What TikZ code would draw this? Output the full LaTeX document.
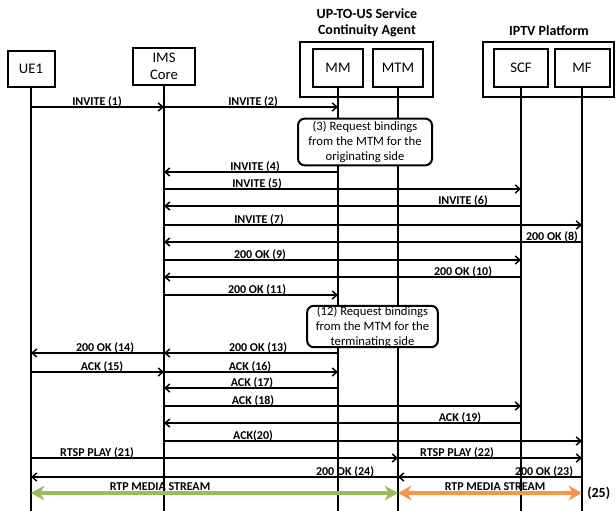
\documentclass[tikz,border=0pt]{standalone}
\usepackage{fontspec}
\setmainfont{Carlito}
\usetikzlibrary{arrows.meta}
\definecolor{sgreen}{HTML}{9BBB59}
\definecolor{sorange}{HTML}{F79646}
\newcommand\mymsg[5]{%
  \coordinate (r#3) at (0,#3);
  \draw[msg] (#1 |- r#3) -- (#2 |- r#3);
  \node[lbl] at (#4,#3-2) {#5};}
\begin{document}
\begin{tikzpicture}[x=0.75pt,y=-0.75pt,
 box/.style={draw, line width=1.5pt, fill=white, align=center, font=\fontsize{11}{12.5}\selectfont, inner sep=0pt},
 outer/.style={draw, line width=2.2pt, inner sep=0pt},
 title/.style={align=center, font=\bfseries\fontsize{10.5}{12}\selectfont, inner sep=0pt},
 life/.style={line width=1.5pt},
 msg/.style={line width=1.4pt, -{Straight Barb[length=3.5pt,width=6pt,line width=1.1pt]}},
 lbl/.style={font=\bfseries\fontsize{9}{10}\selectfont, inner sep=0pt, anchor=base},
 note/.style={draw, line width=1.5pt, rounded corners=5pt, fill=white, align=center, font=\fontsize{9.5}{11.25}\selectfont, inner sep=0pt},
 stream/.style={line width=2.8pt, {Stealth[length=10pt,width=11pt,inset=3pt]}-{Stealth[length=10pt,width=11pt,inset=3pt]}}
]
\useasboundingbox (0,0) rectangle (616,510);
% titles and group boxes
\node[title] (tu) at (367,23) {UP-TO-US Service\\Continuity Agent};
\node[title] (ti) at (549,31) {IPTV Platform};
\node[outer, minimum width=99.75pt, minimum height=41.25pt] (uta) at (366.5,69.5) {};
\node[outer, minimum width=98.25pt, minimum height=41.25pt] (iptv) at (548.5,69.5) {};
% entity boxes
\node[box, minimum width=35.25pt, minimum height=27pt] (ue) at (31,69) {UE1};
\node[box, minimum width=46.5pt, minimum height=27.75pt] (ims) at (164,66.5) {IMS\\Core};
\node[box, minimum width=37.5pt, minimum height=28.5pt] (mm) at (338,68) {MM};
\node[box, minimum width=37.5pt, minimum height=28.5pt] (mtm) at (398,68) {MTM};
\node[box, minimum width=40.5pt, minimum height=28.5pt] (scf) at (521,68) {SCF};
\node[box, minimum width=41.25pt, minimum height=28.5pt] (mf) at (582,68) {MF};
% lifelines
\coordinate (bot) at (0,511);
\foreach \n in {ue,ims,mm,mtm,scf,mf} {\draw[life] (\n.south) -- (\n |- bot);}
% messages
\mymsg{ue}{ims}{107}{97}{INVITE (1)}
\mymsg{ims}{mm}{107}{253}{INVITE (2)}
\node[note, minimum width=100.5pt, minimum height=35pt] (n3) at (365,142) {(3) Request bindings\\from the MTM for the\\originating side};
\mymsg{mm}{ims}{172}{255}{INVITE (4)}
\mymsg{ims}{scf}{189}{257}{INVITE (5)}
\mymsg{scf}{ims}{206}{463}{INVITE (6)}
\mymsg{ims}{mf}{225}{259}{INVITE (7)}
\mymsg{mf}{ims}{242}{552}{200 OK (8)}
\mymsg{ims}{scf}{260}{260}{200 OK (9)}
\mymsg{scf}{ims}{277}{463}{200 OK (10)}
\mymsg{ims}{mm}{295}{257}{200 OK (11)}
\node[note, minimum width=98pt, minimum height=31pt] (n12) at (372.5,326.5) {(12) Request bindings\\from the MTM for the\\terminating side};
\mymsg{mm}{ims}{353}{258}{200 OK (13)}
\mymsg{ims}{ue}{353}{105}{200 OK (14)}
\mymsg{ue}{ims}{372}{102}{ACK (15)}
\mymsg{ims}{mm}{372}{250}{ACK (16)}
\mymsg{mm}{ims}{388}{252}{ACK (17)}
\mymsg{ims}{scf}{406}{253}{ACK (18)}
\mymsg{scf}{ims}{423}{460}{ACK (19)}
\mymsg{ims}{mf}{441}{253}{ACK(20)}
\mymsg{ue}{mtm}{458}{97}{RTSP PLAY (21)}
\mymsg{mtm}{mf}{458}{457}{RTSP PLAY (22)}
\mymsg{mf}{mtm}{477}{544}{200 OK (23)}
\mymsg{mtm}{ue}{477}{345}{200 OK (24)}
% media streams
\coordinate (rs) at (0,493);
\draw[stream, sgreen] (ue |- rs) -- (mtm |- rs);
\draw[stream, sorange] (mtm |- rs) -- (mf |- rs);
\node[lbl] (gl) at (160,490) {RTP MEDIA STREAM};
\node[lbl] (ol) at (495,490) {RTP MEDIA STREAM};
\node[font=\bfseries\fontsize{10.5}{12}\selectfont, inner sep=0pt, anchor=west] (n25) at (587,493) {(25)};
\end{tikzpicture}
\end{document}
